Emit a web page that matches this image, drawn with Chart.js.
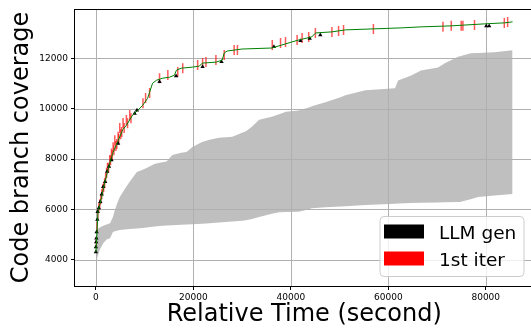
<!DOCTYPE html>
<html>
<head>
<meta charset="utf-8">
<script src="https://cdn.jsdelivr.net/npm/chart.js@4.4.0/dist/chart.umd.min.js"></script>
<style>
  html, body { margin: 0; padding: 0; background: #fff; overflow: hidden; }
</style>
</head>
<body>
<canvas id="cov" width="540" height="330"></canvas>
<script>
// min / max band over all runs (seconds, branches)
const bandTime = [0, 300, 800, 1500, 2200, 2900, 3500, 3900, 4300, 4900, 5900, 6900, 8400, 9600, 10400, 12000,
  13100, 14500, 15700, 16500, 17500, 18600, 19800, 21800, 23300, 25300, 28000, 30000, 30800, 32000, 33500,
  36100, 37600, 39000, 41600, 43700, 44300, 47100, 50200, 51200, 55300, 61400, 62000, 64700, 66700, 70200,
  71600, 74300, 74700, 76900, 78400, 81800, 85500];
const bandLow = [3460, 4100, 4390, 4650, 4800, 4850, 5100, 5130, 5150, 5180, 5200, 5220, 5240, 5260, 5280, 5320,
  5340, 5360, 5370, 5380, 5390, 5400, 5410, 5430, 5450, 5480, 5520, 5550, 5570, 5620, 5700,
  5820, 5880, 5890, 5900, 6000, 6040, 6080, 6110, 6120, 6170, 6220, 6230, 6250, 6260, 6270,
  6280, 6290, 6290, 6400, 6490, 6550, 6610];
const bandHigh = [5150, 5200, 5280, 5350, 5400, 5450, 5700, 5970, 6200, 6490, 6800, 7090, 7480, 7570, 7640, 7800,
  7850, 7900, 8160, 8200, 8250, 8280, 8480, 8680, 8760, 8840, 8880, 9040, 9100, 9280, 9560,
  9680, 9780, 9880, 9930, 10050, 10100, 10250, 10450, 10530, 10730, 10810, 11120, 11320, 11520, 11640,
  11800, 12060, 12080, 12200, 12210, 12240, 12320];

// our run
const runTime = [0, 200, 450, 800, 1800, 2800, 3500, 4500, 5500, 6300, 7550, 8570, 9590, 10610, 11020, 11630,
  12450, 13670, 15100, 16120, 16530, 17550, 19800, 21220, 21840, 24690, 25920, 26330, 26940, 30000, 36120,
  38160, 40200, 41630, 44290, 45100, 48370, 51220, 62650, 66730, 72860, 79800, 83880, 85500];
const runCov = [4300, 5000, 5950, 6170, 7050, 7800, 8250, 8700, 9160, 9350, 9750, 9930, 10130, 10410, 10650, 11010,
  11130, 11210, 11250, 11330, 11530, 11610, 11650, 11690, 11810, 11850, 11930, 12210, 12290, 12370, 12410,
  12530, 12650, 12730, 12850, 13010, 13050, 13130, 13210, 13250, 13290, 13370, 13410, 13450];

// 1st iter events
const iterTime = [100, 250, 400, 600, 800, 1000, 1200, 1400, 1600, 1800, 2000, 2200, 2380, 2600, 2860, 3000, 3200,
  3350, 3540, 3700, 3880, 4100, 4300, 4560, 4700, 4900, 5100, 5300, 5580, 5800, 6260, 6500, 6940, 7200,
  9660, 10200, 11020, 13060, 14760, 16800, 17820, 20880, 21900, 22590,
  24630, 26330, 28370, 29040, 36190, 37890, 38910, 41290, 42310, 43670, 45040, 48430, 49800, 50820, 56940,
  71220, 72920, 74960, 75310, 77690, 83810, 84490];
const iterCov = [4700, 5300, 5800, 6050, 6200, 6400, 6600, 6800, 6900, 7050, 7250, 7450, 7650, 7650, 7960, 7950, 8220,
  8150, 8470, 8350, 8750, 8520, 8600, 8880, 8800, 9230, 8980, 9070, 9430, 9230, 9550, 9420, 9750, 9620,
  10220, 10420, 10620, 11210, 11340, 11460, 11610, 11730, 11810, 11850,
  11930, 12130, 12330, 12330, 12530, 12610, 12650, 12730, 12810, 12850, 13010, 13050, 13090, 13130, 13170,
  13250, 13290, 13290, 13290, 13320, 13400, 13440];

// LLM gen events
const genTime = [0, 0, 50, 100, 150, 300, 350, 600, 900, 1200, 1500, 1900, 2300, 2700, 3200, 4560, 7960, 8430,
  13060, 16460, 21900, 25780, 36530, 41970, 43880, 46050, 80100, 80700];
const genCov = [4300, 4500, 4700, 4850, 5100, 5600, 5900, 6050, 6300, 6600, 6900, 7100, 7500, 7700, 7960, 8620,
  9810, 9940, 11070, 11300, 11670, 11860, 12460, 12700, 12790, 12930, 13280, 13280];

const xTicks = [0, 20000, 40000, 60000, 80000];
const yTicks = [4000, 6000, 8000, 10000, 12000];
const legendLabels = ['LLM gen', '1st iter'];
const legendColors = ['#000000', '#ff0000'];

const pts = (xs, ys) => xs.map((x, i) => ({ x: x, y: ys[i] }));
const FONT = '"DejaVu Sans", sans-serif';

// grid goes over the grey band but under the run line (like matplotlib)
const gridOverBand = {
  id: 'gridOverBand',
  afterDatasetDraw(chart, args) {
    if (args.index !== 1) return;
    const { ctx, chartArea: a, scales: { x, y } } = chart;
    ctx.save();
    ctx.strokeStyle = '#b0b0b0';
    ctx.lineWidth = 1;
    ctx.beginPath();
    xTicks.forEach(v => {
      const px = Math.round(x.getPixelForValue(v)) + 0.5;
      ctx.moveTo(px, a.top); ctx.lineTo(px, a.bottom);
    });
    yTicks.forEach(v => {
      const py = Math.round(y.getPixelForValue(v)) + 0.5;
      ctx.moveTo(a.left, py); ctx.lineTo(a.right, py);
    });
    ctx.stroke();
    ctx.restore();
  }
};

const frameAndLegend = {
  id: 'frameAndLegend',
  afterDraw(chart) {
    const { ctx, chartArea: a } = chart;
    ctx.save();
    ctx.strokeStyle = '#000';
    ctx.lineWidth = 1;
    ctx.strokeRect(Math.round(a.left) - 0.5, Math.round(a.top) + 0.5,
      Math.round(a.right - a.left) + 1, Math.round(a.bottom - a.top));

    // legend box, lower right
    const w = 144, h = 60;
    const left = a.right - 10 - w, top = a.bottom - 10 - h;
    ctx.beginPath();
    ctx.roundRect(left + 0.5, top + 0.5, w, h, 4);
    ctx.fillStyle = 'rgba(255,255,255,0.8)';
    ctx.fill();
    ctx.strokeStyle = '#cccccc';
    ctx.stroke();
    ctx.font = '18.5px ' + FONT;
    ctx.textBaseline = 'alphabetic';
    legendLabels.forEach((lbl, i) => {
      const rowTop = top + 8.5 + i * 27;
      ctx.fillStyle = legendColors[i];
      ctx.fillRect(left + 4.5, rowTop, 40, 14);
      ctx.fillStyle = '#000';
      ctx.fillText(lbl, left + 59.5, rowTop + 14);
    });
    ctx.restore();
  }
};

new Chart(document.getElementById('cov'), {
  type: 'line',
  data: {
    datasets: [
      { data: pts(bandTime, bandLow), borderWidth: 0, pointRadius: 0, fill: false, order: 5 },
      { data: pts(bandTime, bandHigh), borderWidth: 0, pointRadius: 0, fill: '-1',
        backgroundColor: '#bfbfbf', order: 4 },
      { data: pts(iterTime, iterCov), showLine: false, pointStyle: 'line', rotation: 90, pointRadius: 5,
        pointBorderColor: 'rgba(255,0,0,0.65)', pointBorderWidth: 1.5, order: 2 },
      { data: pts(genTime, genCov), showLine: false, pointStyle: 'triangle', pointRadius: 2.5,
        pointBackgroundColor: '#000', pointBorderColor: '#000', pointBorderWidth: 0, order: 1 },
      { data: pts(runTime, runCov), borderColor: '#008000', borderWidth: 1, pointRadius: 0,
        tension: 0, fill: false, order: 0 }
    ]
  },
  options: {
    responsive: false,
    animation: false,
    events: [],
    layout: { padding: { top: 9, right: 4, left: 0, bottom: 0 } },
    plugins: { legend: { display: false }, tooltip: { enabled: false } },
    scales: {
      x: {
        type: 'linear',
        min: -4286, max: 89796,
        afterBuildTicks: s => { s.ticks = xTicks.map(v => ({ value: v })); },
        afterFit: s => { s.height = 44; },
        border: { display: false },
        grid: { color: 'transparent', tickColor: '#000', tickLength: 4, drawOnChartArea: false },
        ticks: { color: '#000', font: { family: FONT, size: 9 }, padding: 2, maxRotation: 0,
          callback: v => String(v) },
        title: { display: true, text: 'Relative Time (second)', color: '#000',
          font: { family: FONT, size: 24 }, padding: { top: 0, bottom: 1 } }
      },
      y: {
        type: 'linear',
        min: 2954, max: 13960,
        afterBuildTicks: s => { s.ticks = yTicks.map(v => ({ value: v })); },
        afterFit: s => { s.width = 75; },
        border: { display: false },
        grid: { color: 'transparent', tickColor: '#000', tickLength: 4, drawOnChartArea: false },
        ticks: { color: '#000', font: { family: FONT, size: 9 }, padding: 3,
          callback: v => String(v) },
        title: { display: true, text: 'Code branch coverage', color: '#000',
          font: { family: FONT, size: 24 }, padding: { top: 7, bottom: 0 } }
      }
    }
  },
  plugins: [gridOverBand, frameAndLegend]
});
</script>
</body>
</html>
